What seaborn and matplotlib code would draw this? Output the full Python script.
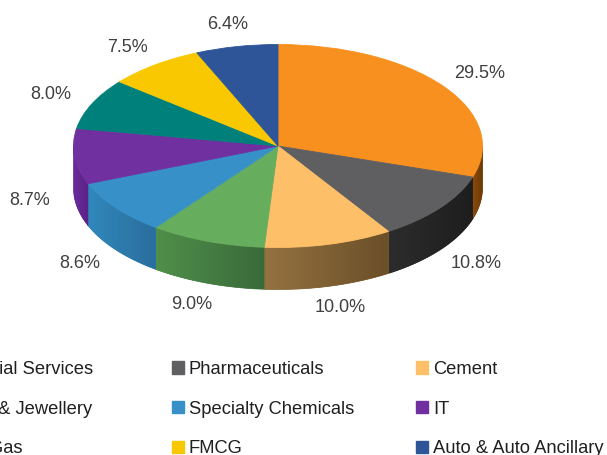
import matplotlib
matplotlib.use('Agg')
import matplotlib.pyplot as plt
import matplotlib.patches as mpatches
from matplotlib.colors import to_rgb
import numpy as np
import seaborn as sns

sns.set_theme(style='white')
plt.rcParams['font.family'] = ['Liberation Sans', 'DejaVu Sans']

sectors = ['Financial Services', 'Pharmaceuticals', 'Cement',
           'Gems & Jewellery', 'Specialty Chemicals', 'IT',
           'Oil & Gas', 'FMCG', 'Auto & Auto Ancillary']
weights = [29.5, 10.8, 10.0, 9.0, 8.6, 8.7, 8.0, 7.5, 6.4]
pct_labels = [f'{w:.1f}%' for w in weights]

top_colors = ['#F7901E', '#5F5F61', '#FDBF68', '#66AD5E', '#3791C8',
              '#7030A0', '#00807A', '#F9C800', '#2E5597']
side_light = ['#8A4A0A', '#2C2C2C', '#957240', '#4F8F4A', '#3088BC',
              '#6A2A98', '#00605C', '#B89400', '#22407A']
side_dark = ['#6A3806', '#1E1E1E', '#6A4F28', '#3A6A3A', '#2A6E9D',
             '#5A2288', '#004A46', '#8A6E00', '#1A3060']

W, H = 607, 455
cx, cy = 278, 146          # pie centre, pixels from top-left
rx, ry = 204.5, 101.5      # ellipse radii in pixels
depth = 42 / ry            # side wall height in data units

fig = plt.figure(figsize=(W / 100, H / 100), dpi=100)
ax = fig.add_axes([0, 0, 1, 1])

wedges, _ = ax.pie(weights, colors=top_colors, startangle=90, counterclock=False,
                   wedgeprops=dict(linewidth=0.6, zorder=3))
for w in wedges:
    w.set_edgecolor(w.get_facecolor())


def mix(c0, c1, f):
    a, b = np.array(to_rgb(c0)), np.array(to_rgb(c1))
    return a + (b - a) * f


# front wall of the "3d" pie, a horizontal gradient clipped to each wedge's wall
for w, c0, c1 in zip(wedges, side_light, side_dark):
    for off in (-360, 0, 360):
        lo = max(w.theta1 + off, 180)
        hi = min(w.theta2 + off, 360)
        if hi <= lo:
            continue
        tt = np.radians(np.linspace(lo, hi, 80))
        x, y = np.cos(tt), np.sin(tt)
        pts = np.vstack([np.column_stack([x, y]),
                         np.column_stack([x[::-1], y[::-1] - depth])])
        poly = mpatches.Polygon(pts, closed=True, fc=mix(c0, c1, 0.5),
                                ec=mix(c0, c1, 0.5), lw=0.5, zorder=2)
        ax.add_patch(poly)
        grad = np.array([mix(c0, c1, f) for f in np.linspace(0, 1, 64)])[None, :, :]
        im = ax.imshow(grad, extent=(x.min(), x.max(), y.min() - depth, y.max()),
                       aspect='auto', interpolation='bilinear', zorder=2.5)
        im.set_clip_path(poly)

# percentage labels
for w, lab in zip(wedges, pct_labels):
    mid = np.radians((w.theta1 + w.theta2) / 2)
    r = 1.22
    x, y = r * np.cos(mid), r * np.sin(mid)
    if y < 0:
        y -= depth
    ax.text(x, y, lab, ha='center', va='center', fontsize=13, color='#404040')

ax.set_aspect('auto')
ax.set_xlim(-cx / rx, (W - cx) / rx)
ax.set_ylim(-(H - cy) / ry, cy / ry)
ax.axis('off')

# legend: three fixed-width columns, filled row by row
handles = [mpatches.Patch(color=c) for c in top_colors]
col_x = [-73, 172, 416]
for j, x0 in enumerate(col_x):
    idx = [j, j + 3, j + 6]
    fig.legend([handles[i] for i in idx], [sectors[i] for i in idx],
               loc='upper left', bbox_to_anchor=(x0 / W, 1 - 361 / H),
               frameon=False, fontsize=13.2, borderpad=0, borderaxespad=0,
               handlelength=0.64, handleheight=0.64, handletextpad=0.28,
               labelspacing=1.24, labelcolor='#202020')

fig.savefig('out.png', dpi=100)
